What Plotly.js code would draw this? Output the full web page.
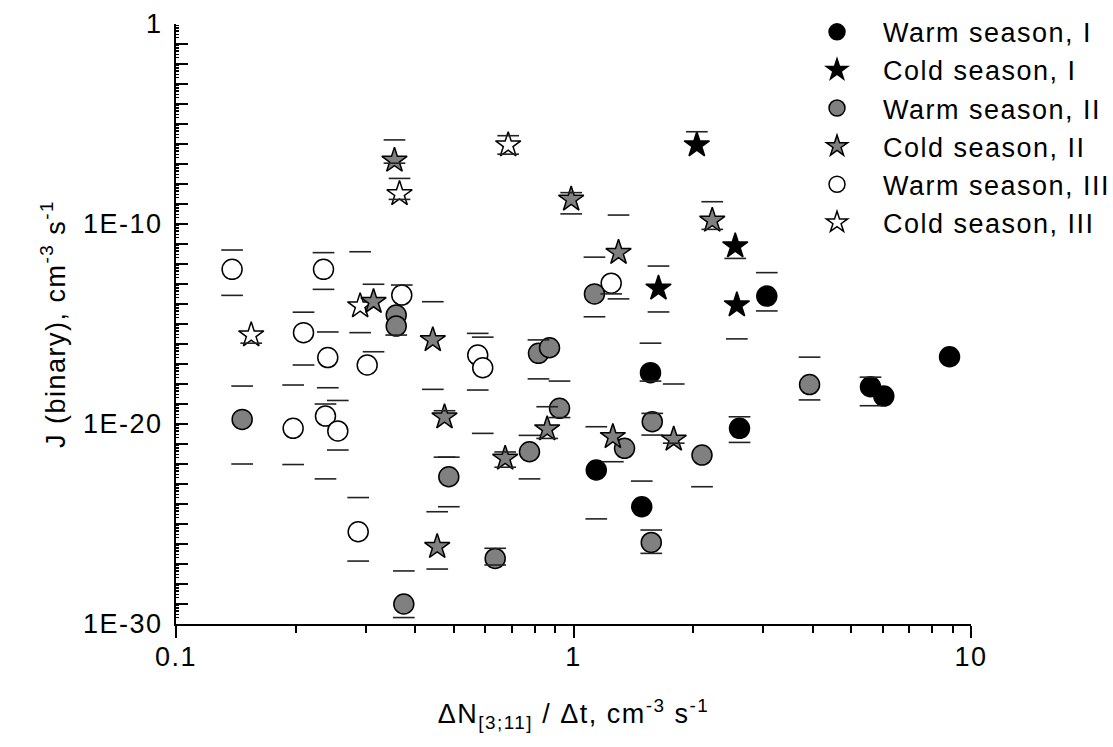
<!DOCTYPE html>
<html>
<head>
<meta charset="utf-8">
<script src="https://cdn.plot.ly/plotly-3.0.1.min.js"></script>
<style>
html,body{margin:0;padding:0;background:#fff;}
#chart{width:1113px;height:747px;}
text{letter-spacing:1.5px;}
</style>
</head>
<body>
<div id="chart"></div>
<script>
// Warm season, I
const warmI_x  = [1.141, 1.485, 1.562, 2.616, 3.064, 5.587, 6.034, 8.831];
const warmI_y  = [5.0e-23, 7.3e-25, 3.7e-18, 6.1e-21, 2.5e-14, 7.3e-19, 2.5e-19, 2.3e-17];
const warmI_hi = [7.3e-21, 1.4e-23, 1.1e-16, 2.3e-20, 3.7e-13, 2.2e-18, null, null];
const warmI_lo = [1.8e-25, null, 1.4e-18, 1.2e-21, 4.5e-15, 8.2e-20, null, null];

// Cold season, I
const coldI_x  = [2.043, 2.552, 1.636, 2.576];
const coldI_y  = [8.9e-7, 7.9e-12, 6.1e-14, 8.9e-15];
const coldI_hi = [4.1e-6, null, 7.9e-13, null];
const coldI_lo = [null, 1.9e-12, 4.0e-15, 1.8e-16];

// Warm season, II
const warmII_x  = [0.1467, 0.3581, 0.3581, 0.3742, 0.4856, 0.6353, 0.7749, 0.8164, 0.8703, 0.9222, 1.129, 1.344, 1.578, 1.569, 2.105, 3.925];
const warmII_y  = [1.7e-20, 2.8e-15, 7.9e-16, 1.0e-29, 2.3e-23, 1.9e-27, 4.1e-22, 3.4e-17, 6.5e-17, 6.1e-20, 3.2e-14, 6.1e-22, 1.3e-20, 1.2e-26, 2.8e-22, 9.4e-19];
const warmII_hi = [7.9e-19, null, null, 4.5e-28, 2.2e-22, 6.1e-27, 2.7e-21, 1.6e-16, null, 1.4e-18, 2.2e-12, null, 3.4e-20, 5.0e-26, null, 2.2e-17];
const warmII_lo = [1.0e-22, null, 2.8e-16, 2.1e-30, 7.3e-25, 8.9e-28, 1.8e-23, 1.8e-18, null, 2.1e-20, 2.3e-15, null, 2.8e-21, 3.4e-27, 7.3e-24, 1.6e-19];

// Cold season, II
const coldII_x  = [0.3545, 0.3140, 0.4426, 0.4737, 0.4541, 0.6732, 0.8587, 0.9867, 1.256, 1.298, 1.787, 2.234];
const coldII_y  = [1.5e-7, 1.3e-14, 1.6e-16, 2.2e-20, 7.3e-27, 1.9e-22, 5.6e-21, 1.7e-9, 2.3e-21, 3.7e-12, 1.7e-21, 1.5e-10];
const coldII_hi = [1.6e-6, 9.7e-14, 1.3e-14, 4.6e-20, 4.1e-25, 4.0e-22, 7.3e-20, 3.7e-9, null, 2.8e-10, 1.0e-18, 1.3e-9];
const coldII_lo = [1.1e-7, 4.1e-17, 5.4e-19, 2.2e-22, 5.6e-28, 6.9e-23, 1.9e-21, 3.2e-10, 1.3e-22, 1.8e-14, 1.1e-21, 5.4e-11];

// Warm season, III
const warmIII_x  = [0.1384, 0.2350, 0.2093, 0.2409, 0.3027, 0.3698, 0.5742, 0.5911, 0.2377, 0.1971, 0.2553, 0.2873, 1.244];
const warmIII_y  = [5.4e-13, 5.4e-13, 3.7e-16, 2.1e-17, 8.9e-18, 2.8e-14, 2.8e-17, 6.5e-18, 2.5e-20, 6.1e-21, 4.5e-21, 4.1e-26, 1.1e-13];
const warmIII_hi = [5.0e-12, 3.7e-12, 3.9e-15, 4.0e-16, null, 8.9e-14, 3.4e-16, 2.2e-16, 1.0e-19, 8.9e-19, 1.5e-19, 2.1e-24, null];
const warmIII_lo = [2.7e-14, 5.4e-14, 8.9e-18, 6.5e-19, null, null, 5.0e-19, 3.4e-21, 1.8e-23, 9.4e-23, 5.0e-22, 1.4e-27, 3.2e-14];

// Cold season, III
const coldIII_x  = [0.1546, 0.2906, 0.3650, 0.6850];
const coldIII_y  = [2.8e-16, 7.9e-15, 3.2e-9, 8.9e-7];
const coldIII_hi = [null, 4.1e-12, 1.9e-8, 2.6e-6];
const coldIII_lo = [1.1e-16, 3.7e-16, 1.7e-9, 3.1e-7];

// Axis ticks
const xTickVals = [0.1, 1, 10];
const xTickText = ['0.1', '1', '10'];
const yTickVals = [1, 1e-10, 1e-20, 1e-30];
const yTickText = ['1', '1E-10', '1E-20', '1E-30'];
const yDecadeTicks = [];
const ySubTicks = [];
for (let e = 0; e >= -30; e--) {
  yDecadeTicks.push(Math.pow(10, e));
  if (e < 0) for (let d = 2; d <= 9; d++) ySubTicks.push(d * Math.pow(10, e));
}

const FONT = 'Liberation Sans, Arial, sans-serif';
const FS = 27;

const series = [
  {name: 'Warm season, I',   x: warmI_x,   y: warmI_y,   hi: warmI_hi,   lo: warmI_lo,   sym: 'circle', fill: '#000000', size: 20, rank: 1},
  {name: 'Cold season, I',   x: coldI_x,   y: coldI_y,   hi: coldI_hi,   lo: coldI_lo,   sym: 'star',   fill: '#000000', size: 19, rank: 2},
  {name: 'Warm season, III', x: warmIII_x, y: warmIII_y, hi: warmIII_hi, lo: warmIII_lo, sym: 'circle', fill: '#ffffff', size: 20, rank: 5},
  {name: 'Cold season, III', x: coldIII_x, y: coldIII_y, hi: coldIII_hi, lo: coldIII_lo, sym: 'star',   fill: '#ffffff', size: 19, rank: 6},
  {name: 'Warm season, II',  x: warmII_x,  y: warmII_y,  hi: warmII_hi,  lo: warmII_lo,  sym: 'circle', fill: '#808080', size: 20, rank: 3},
  {name: 'Cold season, II',  x: coldII_x,  y: coldII_y,  hi: coldII_hi,  lo: coldII_lo,  sym: 'star',   fill: '#808080', size: 19, rank: 4}
];

const traces = [];
series.forEach(s => {
  traces.push({
    type: 'scatter', mode: 'markers', name: s.name, x: s.x, y: s.y,
    legendrank: s.rank,
    marker: {symbol: s.sym, size: s.size, color: s.fill, line: {color: '#000000', width: 1.5}},
    hoverinfo: 'x+y'
  });
});
series.forEach(s => {
  traces.push({
    type: 'scatter', mode: 'markers', showlegend: false, hoverinfo: 'skip',
    x: s.x.concat(s.x), y: s.hi.concat(s.lo),
    marker: {symbol: 'line-ew', size: 15.5, color: '#222222', line: {color: '#222222', width: 1.6}}
  });
});
// carrier for the fine sub-decade tick axis
traces.push({type: 'scatter', mode: 'markers', x: [], y: [], yaxis: 'y2', showlegend: false, hoverinfo: 'skip'});

const layout = {
  width: 1113, height: 747,
  margin: {l: 176, r: 142, t: 24, b: 123, autoexpand: false},
  paper_bgcolor: '#ffffff', plot_bgcolor: '#ffffff',
  font: {family: FONT, size: FS, color: '#000000'},
  showlegend: true,
  legend: {
    x: 0.7736, xanchor: 'left', y: 1.027, yanchor: 'top',
    itemwidth: 82, bgcolor: 'rgba(0,0,0,0)', borderwidth: 0,
    traceorder: 'normal',
    font: {family: FONT, size: FS, color: '#000000'}
  },
  xaxis: {
    type: 'log', range: [-1, 1],
    tickmode: 'array', tickvals: xTickVals, ticktext: xTickText,
    ticks: 'outside', ticklen: 12, tickwidth: 2, tickcolor: '#000',
    minor: {dtick: 'D1', ticks: 'outside', ticklen: 7, tickwidth: 2, tickcolor: '#000', showgrid: false},
    showline: true, linewidth: 2, linecolor: '#000', mirror: false,
    showgrid: false, zeroline: false,
    tickfont: {family: FONT, size: FS},
    ticklabelstandoff: -4,
    title: {text: '\u0394N<sub>[3;11]</sub> / \u0394t, cm<sup>-3</sup> s<sup>-1</sup>', font: {family: FONT, size: FS}, standoff: 33}
  },
  yaxis: {
    type: 'log', range: [-30, 0],
    tickmode: 'array', tickvals: yTickVals, ticktext: yTickText,
    ticks: 'inside', ticklen: 12, tickwidth: 2, tickcolor: '#000',
    minor: {tickmode: 'array', tickvals: yDecadeTicks, ticks: 'inside', ticklen: 12, tickwidth: 2, tickcolor: '#000', showgrid: false},
    showline: true, linewidth: 2, linecolor: '#000', mirror: false,
    showgrid: false, zeroline: false,
    tickfont: {family: FONT, size: FS},
    ticklabelstandoff: 6,
    title: {text: 'J (binary), cm<sup>-3</sup> s<sup>-1</sup>', font: {family: FONT, size: FS}, standoff: 10}
  },
  yaxis2: {
    type: 'log', range: [-30, 0], overlaying: 'y', side: 'left', anchor: 'x',
    tickmode: 'array', tickvals: ySubTicks,
    ticks: 'inside', ticklen: 3, tickwidth: 1, tickcolor: '#000',
    showticklabels: false, showline: false, showgrid: false, zeroline: false
  }
};

Plotly.newPlot('chart', traces, layout, {displayModeBar: false, staticPlot: true});
</script>
</body>
</html>
